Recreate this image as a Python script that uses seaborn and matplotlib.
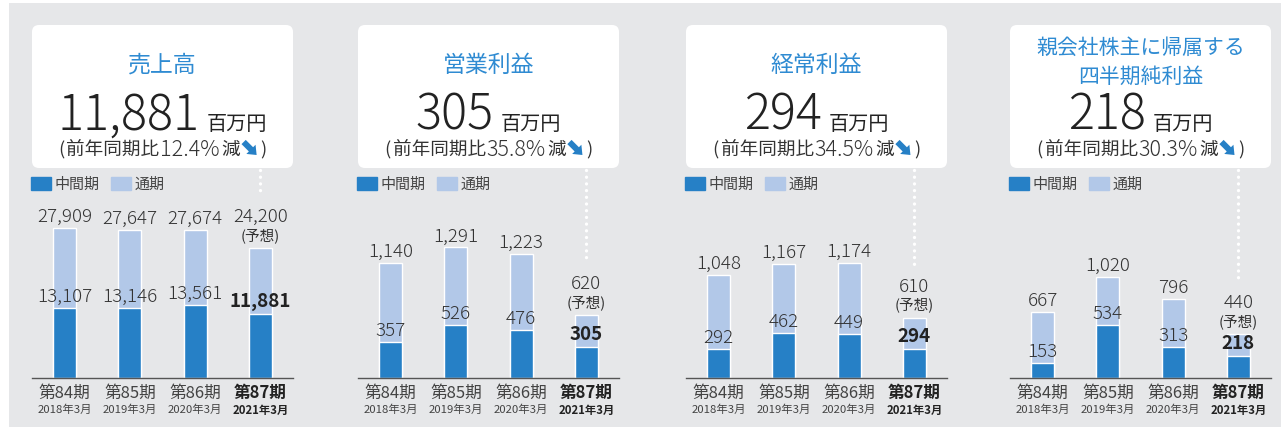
import numpy as np
import pandas as pd
import seaborn as sns
import matplotlib.pyplot as plt
from matplotlib.patches import FancyBboxPatch, FancyArrow, Patch, Rectangle

sns.set_style("white")
plt.rcParams['font.family'] = ['Noto Sans CJK JP', 'DejaVu Sans']

# データ
periods = ['第84期', '第85期', '第86期', '第87期']
months = ['2018年3月', '2019年3月', '2020年3月', '2021年3月']

titles = ['売上高', '営業利益', '経常利益', '親会社株主に帰属する\n四半期純利益']
change_pct = ['12.4', '35.8', '34.5', '30.3']

sales_full = [27909, 27647, 27674, 24200]
sales_half = [13107, 13146, 13561, 11881]
op_full = [1140, 1291, 1223, 620]
op_half = [357, 526, 476, 305]
ord_full = [1048, 1167, 1174, 610]
ord_half = [292, 462, 449, 294]
net_full = [667, 1020, 796, 440]
net_half = [153, 534, 313, 218]

full_series = [sales_full, op_full, ord_full, net_full]
half_series = [sales_half, op_half, ord_half, net_half]

# 色
c_dark = '#2680c6'
c_light = '#b2c8e8'
c_bg = '#e6e7e9'
c_title = '#2f8bd2'
c_text = '#333333'

W, H = 1281, 428
fig = plt.figure(figsize=(W / 100, H / 100), dpi=100)

# ピクセル座標のオーバーレイ
ov = fig.add_axes([0, 0, 1, 1], zorder=0)
ov.set_xlim(0, W)
ov.set_ylim(H, 0)
ov.axis('off')
ov.add_patch(Rectangle((9, 3), W - 9, H - 4, color=c_bg, lw=0))

renderer = fig.canvas.get_renderer()


def text_row(pieces, xc, y, va='center'):
    # pieces: (文字列 or 数値の隙間, kwargs)
    arts, widths = [], []
    for p, kw in pieces:
        if isinstance(p, str):
            t = ov.text(0, y, p, ha='left', va=va, **kw)
            arts.append(t)
            widths.append(t.get_window_extent(renderer).width)
        else:
            arts.append(None)
            widths.append(p)
    x = xc - sum(widths) / 2
    starts = []
    for a, w in zip(arts, widths):
        if a is not None:
            a.set_x(x)
        starts.append(x)
        x += w
    return starts


lefts = [32, 358, 686, 1010]
ax_w = 261
ax_top, ax_bot = 200, 378
ytops = [33200, 1760, 1815, 1795]
num_kw = dict(fontsize=13.5, color=c_text, weight='light')

for k in range(4):
    left = lefts[k]
    full = full_series[k]
    half = half_series[k]
    xc = left + ax_w / 2

    # 白いボックス
    ov.add_patch(FancyBboxPatch((left, 25), ax_w, 143,
                                boxstyle='round,pad=0,rounding_size=7',
                                fc='white', ec='none'))
    if '\n' in titles[k]:
        l1, l2 = titles[k].split('\n')
        ov.text(xc, 48, l1, ha='center', va='center', fontsize=15, color=c_title)
        ov.text(xc, 77, l2, ha='center', va='center', fontsize=15, color=c_title)
    else:
        ov.text(xc, 65, titles[k], ha='center', va='center', fontsize=16.5, color=c_title)

    text_row([(f'{half[3]:,}', dict(fontsize=35, color='#222222', weight='light')),
              (7, {}),
              ('百万円', dict(fontsize=14.5, color='#222222'))],
             xc, 130, va='baseline')

    sub_kw = dict(fontsize=13.4, color=c_text)
    st = text_row([('(', sub_kw), (2, {}),
                   ('前年同期比', sub_kw), (1, {}),
                   (f'{change_pct[k]}%', dict(fontsize=15.5, color=c_text, weight='light')),
                   (1, {}),
                   ('減', sub_kw), (21, {}),
                   (')', sub_kw)],
                  xc, 150)
    ax0 = st[7] + 4
    ov.add_patch(FancyArrow(ax0, 142, 13, 13, width=6, head_width=13,
                            head_length=8, length_includes_head=True,
                            color=c_dark, lw=0))

    # 棒グラフ
    ax = fig.add_axes([left / W, (H - ax_bot) / H, ax_w / W, (ax_bot - ax_top) / H],
                      zorder=1)
    ax.patch.set_alpha(0)
    df = pd.DataFrame({'period': periods, 'full': full, 'half': half})
    sns.barplot(data=df, x='period', y='full', color=c_light, saturation=1,
                width=0.35, ax=ax)
    sns.barplot(data=df, x='period', y='half', color=c_dark, saturation=1,
                width=0.35, ax=ax)
    ax.set_xlim(-0.5, 3.5)
    ax.set_ylim(0, ytops[k])
    ax.set_xlabel('')
    ax.set_ylabel('')
    ax.set_yticks([])
    ax.tick_params(axis='x', length=0, labelbottom=False)
    for s in ['top', 'left', 'right']:
        ax.spines[s].set_visible(False)
    ax.spines['bottom'].set_color('#555555')
    ax.spines['bottom'].set_linewidth(1)

    for i in range(4):
        last = i == 3
        if last:
            ax.annotate(f'{full[i]:,}', xy=(i, full[i]), xytext=(0, 31),
                        textcoords='offset pixels', ha='center', va='center',
                        **num_kw)
            ax.annotate('(予想)', xy=(i, full[i]), xytext=(0, 13),
                        textcoords='offset pixels', ha='center', va='center',
                        fontsize=10.5, color=c_text)
            ax.annotate(f'{half[i]:,}', xy=(i, half[i]), xytext=(0, 13),
                        textcoords='offset pixels', ha='center', va='center',
                        fontsize=13.5, color='#222222', weight='bold')
        else:
            ax.annotate(f'{full[i]:,}', xy=(i, full[i]), xytext=(0, 11),
                        textcoords='offset pixels', ha='center', va='center',
                        **num_kw)
            ax.annotate(f'{half[i]:,}', xy=(i, half[i]), xytext=(0, 11),
                        textcoords='offset pixels', ha='center', va='center',
                        **num_kw)
        ax.annotate(periods[i], xy=(i, 0), xycoords=('data', 'axes fraction'),
                    xytext=(0, -15), textcoords='offset pixels', ha='center',
                    va='center', fontsize=12,
                    color='#222222' if last else '#444444',
                    weight='bold' if last else 'normal')
        ax.annotate(months[i], xy=(i, 0), xycoords=('data', 'axes fraction'),
                    xytext=(0, -32), textcoords='offset pixels', ha='center',
                    va='center', fontsize=8.2,
                    color='#222222' if last else '#444444',
                    weight='bold' if last else 'normal')

    handles = [Patch(color=c_dark, label='中間期'), Patch(color=c_light, label='通期')]
    leg = ax.legend(handles=handles, loc='center left', bbox_to_anchor=(left - 1, 184),
                    bbox_transform=ov.transData, ncol=2, frameon=False,
                    fontsize=10.8, handlelength=1.3, handleheight=1.0,
                    handletextpad=0.25, columnspacing=0.8, borderpad=0,
                    borderaxespad=0)
    for t in leg.get_texts():
        t.set_color('#444444')

    # 点線
    disp = ax.transData.transform((3, full[3]))
    px, py = ov.transData.inverted().transform(disp)
    ov.plot([px, px], [170, py - 52], color='white', lw=2.4,
            linestyle=(0, (0.01, 2.0)), dash_capstyle='round')

fig.savefig('out.png', dpi=100)
